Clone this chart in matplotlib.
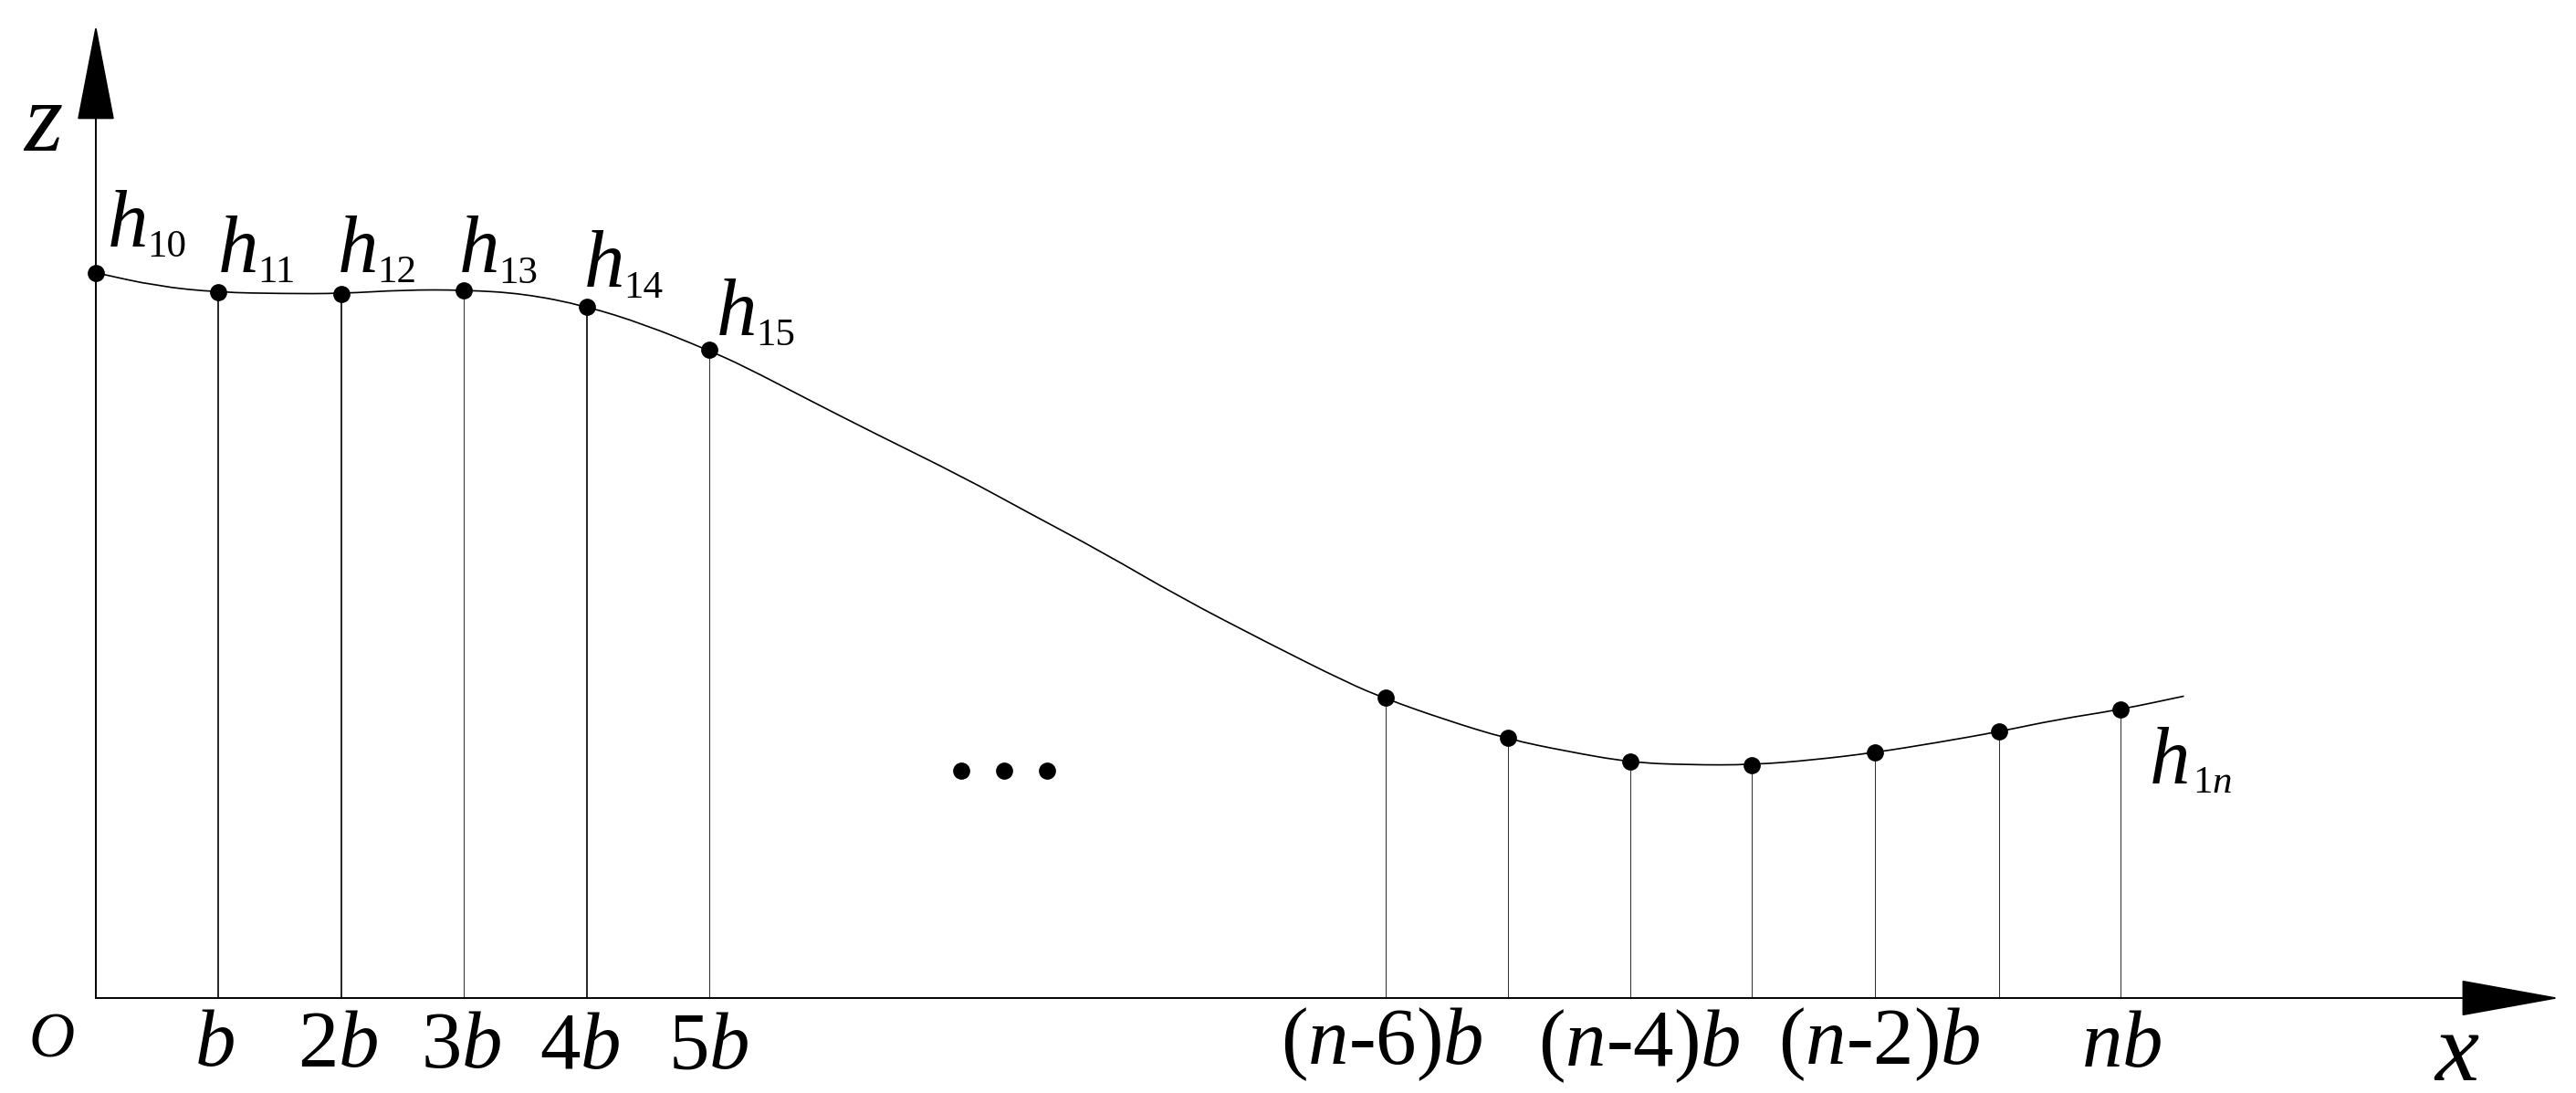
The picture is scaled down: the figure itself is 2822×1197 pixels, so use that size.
import numpy as np
import matplotlib
matplotlib.use("Agg")
import matplotlib.pyplot as plt
from matplotlib.path import Path
from matplotlib.patches import PathPatch
from matplotlib.transforms import Affine2D

plt.rcParams['font.family'] = ['Liberation Serif', 'DejaVu Serif']
plt.rcParams['mathtext.fontset'] = 'custom'
plt.rcParams['mathtext.rm'] = 'Liberation Serif'
plt.rcParams['mathtext.it'] = 'Liberation Serif:italic'

# the profile, x and z in units of b
curve_x = [0, 0.50, 1, 1.53, 2, 2.51, 3, 3.49, 3.99, 4.47, 4.99, 5.28, 5.80, 6.35, 7.06, 7.61, 8.21,
           8.83, 9.54, 10.20, 10.51, 10.99, 11.51, 11.99, 12.51, 12.98, 13.50, 14.00, 14.50, 15.00,
           15.51, 15.99, 16.50, 17.02]
curve_z = [5.91, 5.80, 5.75, 5.74, 5.74, 5.77, 5.77, 5.74, 5.64, 5.49, 5.28, 5.15, 4.88, 4.60, 4.25,
           3.95, 3.63, 3.27, 2.90, 2.57, 2.44, 2.27, 2.11, 2.01, 1.92, 1.90, 1.90, 1.94, 2.00, 2.08,
           2.17, 2.27, 2.35, 2.46]

# measured points
left_x = [0, 1, 2, 3, 4, 5]
left_z = [5.91, 5.75, 5.74, 5.77, 5.63, 5.28]
right_x = [10.51, 11.51, 12.51, 13.50, 14.50, 15.51, 16.50]
right_z = [2.45, 2.12, 1.93, 1.90, 2.00, 2.17, 2.35]

dots_x = [7.05, 7.40, 7.75]
dots_z = [1.85, 1.85, 1.85]

tick_labels = ['$b$', '2$b$', '3$b$', '4$b$', '5$b$', '($n$-6)$b$', '($n$-4)$b$', '($n$-2)$b$', '$nb$']
tick_px = [(235, 1167), (370, 1168), (505, 1169), (635, 1170), (776, 1170),
           (1514, 1165), (1796, 1167), (2059, 1165), (2324, 1168)]

h_subs = ['10', '11', '12', '13', '14', '15']
h_px = [(118, 270), (239, 298), (370, 298), (503, 298), (640, 314), (785, 367)]
sub_px = [(161, 281), (282, 309), (413, 309), (546, 310), (683, 326), (828, 378)]

fig = plt.figure(figsize=(28.22, 11.97), dpi=100)
ax = fig.add_axes([0, 0, 1, 1])
scale = 134.4
ax.set_xlim(-105/scale, (2822-105)/scale)
ax.set_ylim(-(1197-1093)/scale, 1093/scale)
ax.axis('off')

# picture pixels, for placing the text
px = Affine2D().scale(1/2822, -1/1197).translate(0, 1) + fig.transFigure

# axes with their arrow heads
head = dict(arrowstyle='-|>,head_length=70,head_width=13.5', color='black', lw=1.4,
            mutation_scale=1, shrinkA=0, shrinkB=0)
ax.annotate('', xy=(0, 1066/scale), xytext=(0, 0), arrowprops=head)
ax.annotate('', xy=(2699/scale, 0), xytext=(0, 0),
            arrowprops=dict(head, arrowstyle='-|>,head_length=72,head_width=13'))

# verticals, the first ones are darker than the rest
dark = [0, 1, 2, 4]
for i in range(len(left_x)):
    if i in dark:
        ax.plot([left_x[i], left_x[i]], [0, left_z[i]], color='black', lw=1.2)
    else:
        ax.plot([left_x[i], left_x[i]], [0, left_z[i]], color='#333333', lw=0.75)
for i in range(len(right_x)):
    ax.plot([right_x[i], right_x[i]], [0, right_z[i]], color='#333333', lw=0.75)

# smooth line through the read points, quadratic pieces between the midpoints
pts = np.column_stack([curve_x, curve_z])
mids = (pts[:-1] + pts[1:]) / 2
verts = [pts[0], mids[0]]
codes = [Path.MOVETO, Path.LINETO]
for i in range(1, len(pts)-1):
    verts += [pts[i], mids[i]]
    codes += [Path.CURVE3, Path.CURVE3]
verts.append(pts[-1])
codes.append(Path.LINETO)
ax.add_patch(PathPatch(Path(verts, codes), fill=False, ec='black', lw=1.2))

ax.plot(left_x, left_z, 'o', color='black', ms=13.5, mec='none')
ax.plot(right_x, right_z, 'o', color='black', ms=13.5, mec='none')
ax.plot(dots_x, dots_z, 'o', color='black', ms=13.5, mec='none')

# labels
for i in range(len(h_subs)):
    ax.text(h_px[i][0], h_px[i][1], 'h', transform=px, style='italic', fontsize=64, ha='left', va='baseline')
    ax.text(sub_px[i][0], sub_px[i][1], h_subs[i], transform=px, fontsize=31, ha='left', va='baseline')
ax.text(2355, 858, 'h', transform=px, style='italic', fontsize=64, ha='left', va='baseline')
ax.text(2402, 868, '1$n$', transform=px, fontsize=31, ha='left', va='baseline')

for i in range(len(tick_labels)):
    ax.text(tick_px[i][0], tick_px[i][1], tick_labels[i], transform=px, fontsize=64, ha='center', va='baseline')

ax.text(57, 1157, 'O', transform=px, style='italic', fontsize=50, ha='center', va='baseline')
ax.text(47, 165, 'z', transform=px, style='italic', fontsize=78, ha='center', va='baseline')
ax.text(2691, 1183, 'x', transform=px, style='italic', fontsize=78, ha='center', va='baseline')

plt.savefig("out.png", dpi=100)
